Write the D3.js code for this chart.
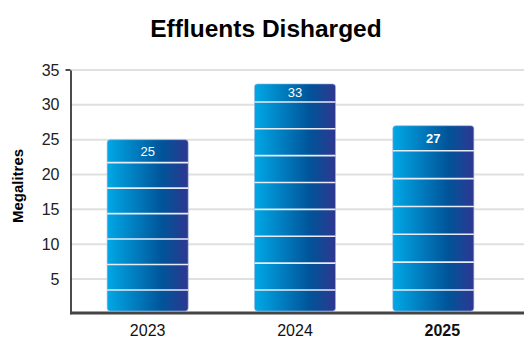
<!DOCTYPE html>
<html>
<head>
<meta charset="utf-8">
<script src="https://cdn.jsdelivr.net/npm/d3@7"></script>
<style>
  body { margin: 0; background: #fff; }
  svg { font-family: "Liberation Sans", Arial, sans-serif; }
</style>
</head>
<body>
<svg class="viz"></svg>
<script>
var width = 524,
  height = 338,
  bar_bottom = 311;

// data
var years = ["2023", "2024", "2025"];
var effluents = [25, 33, 27];
var y_ticks = [5, 10, 15, 20, 25, 30, 35];

// decoration: stripes per bar and height of the top stripe (px)
var stripes = [7, 9, 7];
var top_stripe = [23, 18, 25];
// the last bar sits a little left of its label in the original
var bar_nudge = [0, 0, -9];

var svg = d3.select(".viz")
  .attr("width", width)
  .attr("height", height);

var x = d3.scaleBand()
  .domain(years)
  .range([74, 516])
  .paddingInner(0.45)
  .paddingOuter(0.225);

var y = d3.scaleLinear()
  .domain([0, 35])
  .range([313.8, 70]);

// gradient for bars
var defs = svg.append("defs");
var grad = defs.append("linearGradient")
  .attr("id", "barGrad")
  .attr("x1", "0%").attr("x2", "100%")
  .attr("y1", "0%").attr("y2", "0%");
grad.append("stop").attr("offset", "0%").attr("stop-color", "#00a8e6");
grad.append("stop").attr("offset", "68%").attr("stop-color", "#005499");
grad.append("stop").attr("offset", "100%").attr("stop-color", "#2e3790");

// title
svg.append("text")
  .attr("x", 266)
  .attr("y", 37)
  .attr("text-anchor", "middle")
  .attr("font-size", "24.5px")
  .attr("font-weight", "bold")
  .attr("fill", "#000")
  .text("Effluents Disharged");

// y label
svg.append("text")
  .attr("transform", "translate(23,186) rotate(-90)")
  .attr("text-anchor", "middle")
  .attr("font-size", "15px")
  .attr("font-weight", "bold")
  .attr("fill", "#000")
  .text("Megalitres");

// gridlines
svg.append("g")
  .selectAll("line")
  .data(y_ticks)
  .enter()
  .append("line")
  .attr("x1", 71)
  .attr("x2", width)
  .attr("y1", d => y(d))
  .attr("y2", d => y(d))
  .attr("stroke", "#e0e0e0")
  .attr("stroke-width", 2);

// y axis
var yAxis = d3.axisLeft(y)
  .tickValues(y_ticks)
  .tickSize(0)
  .tickPadding(11);
var yg = svg.append("g")
  .attr("transform", "translate(70.5,0)")
  .call(yAxis);
yg.select(".domain").attr("stroke", "#111").attr("stroke-width", 1.5);
yg.selectAll("text")
  .attr("font-size", "16px")
  .attr("fill", "#222")
  .attr("font-family", "Liberation Sans, Arial, sans-serif");
// little tick at the top only
yg.append("line")
  .attr("x1", -5).attr("x2", 0)
  .attr("y1", y(35)).attr("y2", y(35))
  .attr("stroke", "#111").attr("stroke-width", 1.5);

// bars
var bars = svg.append("g")
  .selectAll("g")
  .data(years)
  .enter()
  .append("g")
  .attr("transform", (d, i) => "translate(" + bar_nudge[i] + ",0)");

bars.append("rect")
  .attr("x", d => x(d))
  .attr("width", x.bandwidth())
  .attr("y", (d, i) => y(effluents[i]))
  .attr("height", (d, i) => bar_bottom - y(effluents[i]))
  .attr("rx", 3)
  .attr("fill", "url(#barGrad)")
  .attr("stroke", "#9fb3dc")
  .attr("stroke-width", 0.6);

// white stripes across bars
bars.each(function(d, i) {
  var top = y(effluents[i]);
  var h = bar_bottom - top;
  var n = stripes[i];
  var step = (h - 21 - top_stripe[i]) / (n - 2);
  var lines = d3.range(0, n - 1).map(k => bar_bottom - 21 - k * step);
  d3.select(this).selectAll("line")
    .data(lines)
    .enter()
    .append("line")
    .attr("x1", x(d))
    .attr("x2", x(d) + x.bandwidth())
    .attr("y1", v => v)
    .attr("y2", v => v)
    .attr("stroke", "#e8ecf6")
    .attr("stroke-width", 1.6);
});

// value labels, centred in the top stripe
bars.append("text")
  .attr("x", d => x(d) + x.bandwidth() / 2)
  .attr("y", (d, i) => y(effluents[i]) + top_stripe[i] / 2 + 4.5)
  .attr("text-anchor", "middle")
  .attr("font-size", "13px")
  .attr("font-weight", (d, i) => i == 2 ? "bold" : "normal")
  .attr("fill", "#fff")
  .text((d, i) => effluents[i]);

// x axis
var xAxis = d3.axisBottom(x).tickSize(0).tickPadding(12);
var xg = svg.append("g")
  .attr("transform", "translate(0,313)")
  .call(xAxis);
xg.select(".domain").remove();
xg.append("line")
  .attr("x1", 70).attr("x2", width)
  .attr("y1", 0).attr("y2", 0)
  .attr("stroke", "#444").attr("stroke-width", 3);
xg.selectAll(".tick text")
  .attr("font-size", "16px")
  .attr("fill", "#111")
  .attr("font-family", "Liberation Sans, Arial, sans-serif")
  .attr("font-weight", d => d == "2025" ? "bold" : "normal");
</script>
</body>
</html>
